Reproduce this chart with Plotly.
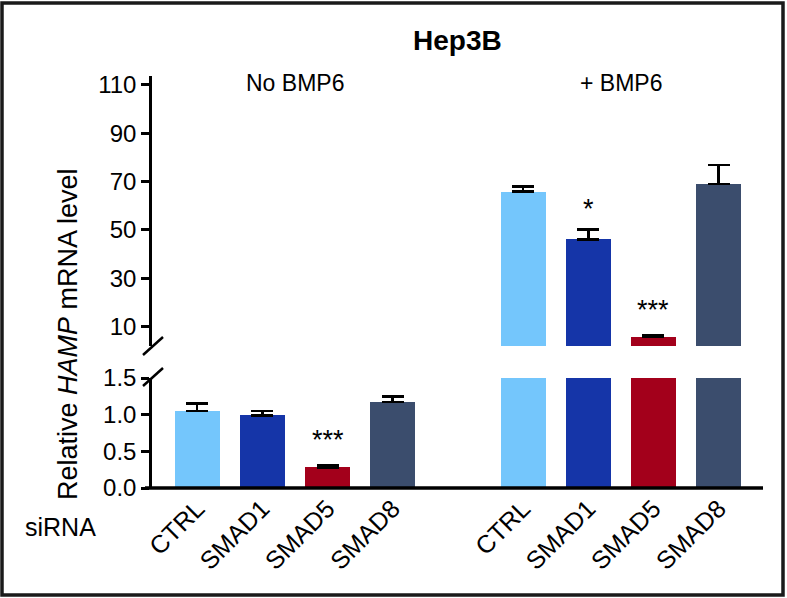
import plotly.graph_objects as go

categories = ["CTRL", "SMAD1", "SMAD5", "SMAD8"]
x_no_bmp6 = [0, 1, 2, 3]
x_bmp6 = [5, 6, 7, 8]
no_bmp6 = [1.05, 0.99, 0.28, 1.17]
no_bmp6_err = [0.10, 0.06, 0.03, 0.08]
bmp6 = [65.8, 46.1, 5.6, 69.0]
bmp6_err = [2.1, 4.1, 0.75, 7.9]
colors = ["#74C6FC", "#1535A8", "#A3001B", "#3B4D6D"]
upper_ticks = [10, 30, 50, 70, 90, 110]
lower_ticks = [0.0, 0.5, 1.0, 1.5]
lower_tick_text = ["0.0", "0.5", "1.0", "1.5"]

FONT = "Liberation Sans, Arial, sans-serif"
BW = 0.69

fig = go.Figure()
# lower panel: No BMP6 with error bars
fig.add_trace(go.Bar(x=x_no_bmp6, y=no_bmp6, width=BW, marker=dict(color=colors, line=dict(width=0)),
                     error_y=dict(type="data", symmetric=False, array=no_bmp6_err,
                                  arrayminus=[0] * 4, color="black", thickness=2.5, width=11),
                     xaxis="x", yaxis="y", showlegend=False))
# lower panel: +BMP6 bars (clipped at axis top)
fig.add_trace(go.Bar(x=x_bmp6, y=bmp6, width=BW, marker=dict(color=colors, line=dict(width=0)),
                     xaxis="x", yaxis="y", showlegend=False))
# upper panel: +BMP6 with error bars
fig.add_trace(go.Bar(x=x_bmp6, y=bmp6, width=BW, marker=dict(color=colors, line=dict(width=0)),
                     error_y=dict(type="data", symmetric=False, array=bmp6_err,
                                  arrayminus=[0] * 4, color="black", thickness=2.5, width=11),
                     xaxis="x", yaxis="y2", showlegend=False))

L, R, T, B = 152, 24, 76, 110
W, H = 787, 598
PW, PH = W - L - R, H - T - B

def px(xp):
    return (xp - L) / PW

def py(yp):
    return (H - B - yp) / PH

fig.update_layout(
    width=W, height=H,
    margin=dict(l=L, r=R, t=T, b=B),
    plot_bgcolor="white", paper_bgcolor="white",
    font=dict(family=FONT, size=24, color="black"),
    bargap=0,
    xaxis=dict(range=[-0.693, 8.68], tickvals=x_no_bmp6 + x_bmp6, ticktext=categories * 2,
               tickangle=-45, showline=False, showgrid=False, zeroline=False, ticks="",
               tickfont=dict(size=25, family=FONT), anchor="y"),
    yaxis=dict(domain=[0, py(378)], range=[0, 1.5], tickvals=lower_ticks, ticktext=lower_tick_text,
               showline=True, linewidth=2.5, linecolor="black", ticks="outside", ticklen=8,
               tickwidth=2.5, tickcolor="black", showgrid=False, zeroline=False,
               tickfont=dict(size=24, family=FONT), anchor="x"),
    yaxis2=dict(domain=[py(346), 1], range=[1.93, 113.7], tickvals=upper_ticks,
                showline=True, linewidth=2.5, linecolor="black", ticks="outside", ticklen=8,
                tickwidth=2.5, tickcolor="black", showgrid=False, zeroline=False,
                tickfont=dict(size=24, family=FONT), anchor="x"),
)

shapes = [
    # x axis baseline
    dict(type="line", xref="paper", yref="paper", x0=px(145), x1=px(763), y0=py(488), y1=py(488),
         line=dict(color="black", width=3.5), layer="above"),
    # break slashes
    dict(type="line", xref="paper", yref="paper", x0=px(143), x1=px(163), y0=py(355), y1=py(337),
         line=dict(color="black", width=2.5)),
    dict(type="line", xref="paper", yref="paper", x0=px(143), x1=px(163), y0=py(386), y1=py(368),
         line=dict(color="black", width=2.5)),
    # frame
    dict(type="rect", xref="paper", yref="paper", x0=px(2), x1=px(783), y0=py(595), y1=py(3),
         line=dict(color="#1a1a1a", width=3.5)),
]
fig.update_layout(shapes=shapes)

annotations = [
    dict(text="<b>Hep3B</b>", xref="paper", yref="paper", x=px(457), y=py(41), showarrow=False,
         font=dict(size=28, family=FONT), xanchor="center", yanchor="middle"),
    dict(text="No BMP6", xref="x", yref="paper", x=1.5, y=py(83), showarrow=False,
         font=dict(size=23, family=FONT), xanchor="center", yanchor="middle"),
    dict(text="+ BMP6", xref="x", yref="paper", x=6.5, y=py(83), showarrow=False,
         font=dict(size=23, family=FONT), xanchor="center", yanchor="middle"),
    dict(text="Relative <i>HAMP</i> mRNA level", xref="paper", yref="paper", x=px(68), y=py(334),
         textangle=-90, showarrow=False, font=dict(size=27, family=FONT),
         xanchor="center", yanchor="middle"),
    dict(text="siRNA", xref="paper", yref="paper", x=px(60), y=py(527), showarrow=False,
         font=dict(size=25, family=FONT), xanchor="center", yanchor="middle"),
    dict(text="*", xref="x", yref="paper", x=6, y=py(209), showarrow=False,
         font=dict(size=27, family=FONT), xanchor="center", yanchor="middle"),
    dict(text="***", xref="x", yref="paper", x=7, y=py(310), showarrow=False,
         font=dict(size=27, family=FONT), xanchor="center", yanchor="middle"),
    dict(text="***", xref="x", yref="paper", x=2, y=py(440), showarrow=False,
         font=dict(size=27, family=FONT), xanchor="center", yanchor="middle"),
]
fig.update_layout(annotations=annotations)

fig.write_html("out.html", config={"displayModeBar": False},
               post_script="document.body.style.margin='0';document.body.style.padding='0';")
